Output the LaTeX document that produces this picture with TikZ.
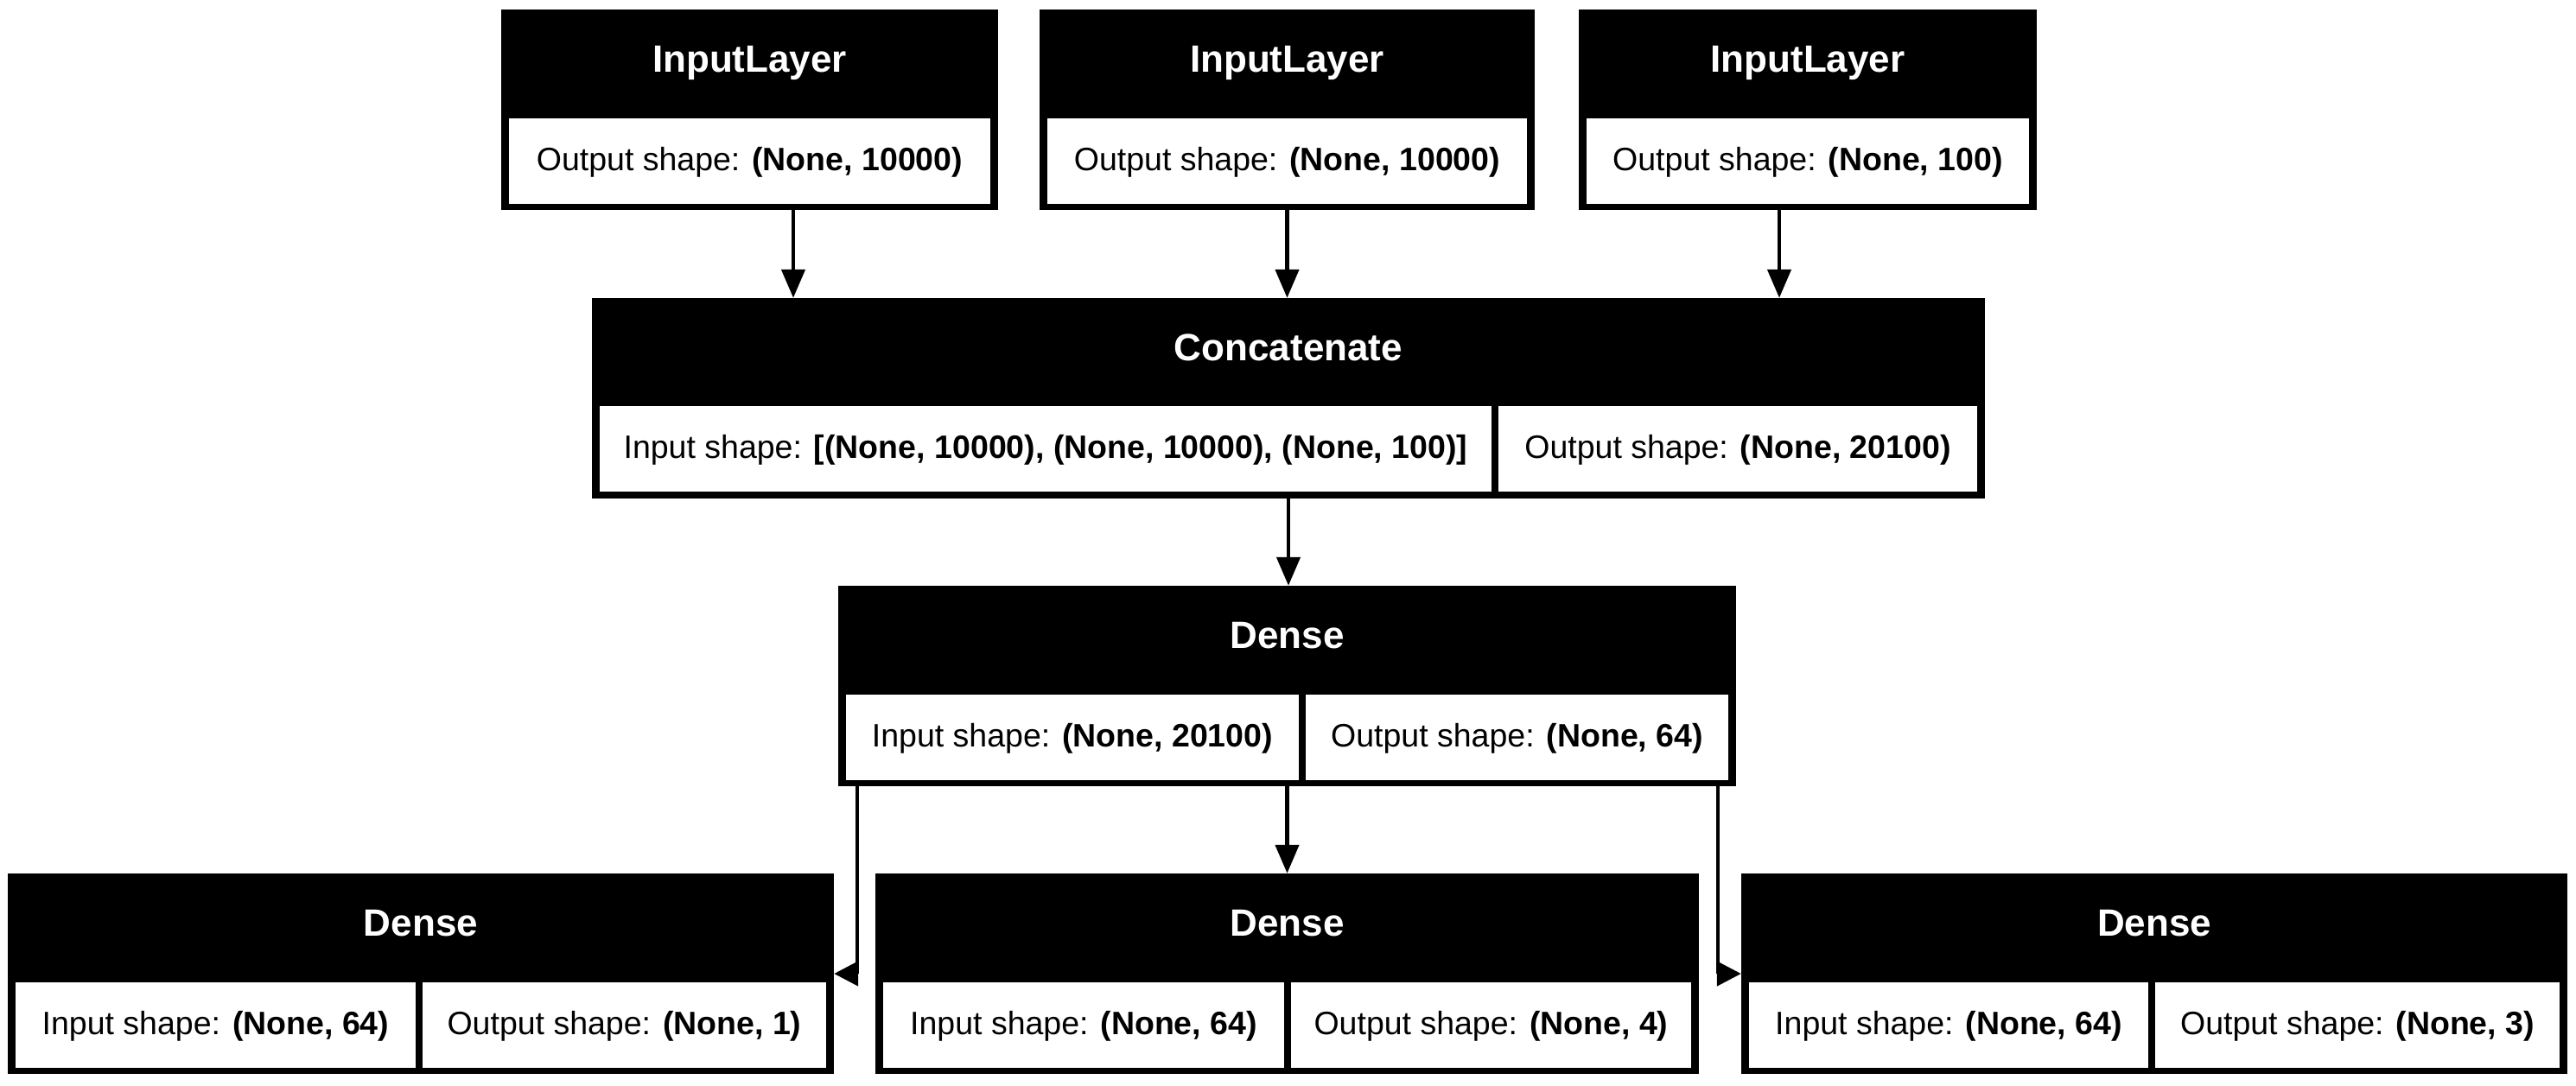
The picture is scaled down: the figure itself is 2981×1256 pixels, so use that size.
\documentclass[tikz,border=0pt]{standalone}
\usepackage{fontspec}
\setmainfont{Liberation Sans}
\usetikzlibrary{arrows.meta}
\begin{document}
\begin{tikzpicture}[x=1pt,y=-1pt,
    layer/.style={fill=black,inner sep=0pt,minimum height=232pt},
    head/.style={text=white,anchor=base,inner sep=0pt,font=\fontsize{44}{52}\selectfont\bfseries},
    cell/.style={fill=white,inner sep=0pt,minimum height=99pt,text height=27pt,text depth=6pt,
      font=\fontsize{37.5}{45}\selectfont},
    arr/.style={line width=4.5pt,-{Triangle[length=33pt,width=27pt]}},
    sidearr/.style={line width=4.5pt,-{Triangle[length=28pt,width=28pt]}}]
  \useasboundingbox (0,0) rectangle (2981,1256);
  % input layers
  \node[layer,minimum width=575pt] (in1) at (867.5,127) {};
  \node[head] at (867.5,83) {InputLayer};
  \node[cell,minimum width=557pt] (in1out) at (867.5,186.5) {Output shape: \textbf{(None, 10000)}};
  \node[layer,minimum width=573pt] (in2) at (1489.5,127) {};
  \node[head] at (1489.5,83) {InputLayer};
  \node[cell,minimum width=555pt] (in2out) at (1489.5,186.5) {Output shape: \textbf{(None, 10000)}};
  \node[layer,minimum width=530pt] (in3) at (2092,127) {};
  \node[head] at (2092,83) {InputLayer};
  \node[cell,minimum width=512pt] (in3out) at (2092,186.5) {Output shape: \textbf{(None, 100)}};
  % concatenate
  \node[layer,minimum width=1612pt] (cat) at (1491,461) {};
  \node[head] at (1491,417) {Concatenate};
  \node[cell,minimum width=1032pt] (catin) at (1210,519.5) {Input shape: \textbf{[(None, 10000), (None, 10000), (None, 100)]}};
  \node[cell,minimum width=554pt] (catout) at (2011,519.5) {Output shape: \textbf{(None, 20100)}};
  % dense
  \node[layer,minimum width=1039pt] (dense) at (1489.5,794) {};
  \node[head] at (1489.5,750) {Dense};
  \node[cell,minimum width=524pt] (densein) at (1241,853.5) {Input shape: \textbf{(None, 20100)}};
  \node[cell,minimum width=489pt] (denseout) at (1755.5,853.5) {Output shape: \textbf{(None, 64)}};
  % output heads
  \node[layer,minimum width=956pt] (dense1) at (487,1127) {};
  \node[head] at (487,1083) {Dense};
  \node[cell,minimum width=463pt] (dense1in) at (249.5,1186.5) {Input shape: \textbf{(None, 64)}};
  \node[cell,minimum width=467pt] (dense1out) at (722.5,1186.5) {Output shape: \textbf{(None, 1)}};
  \node[layer,minimum width=953pt] (dense2) at (1489.5,1127) {};
  \node[head] at (1489.5,1083) {Dense};
  \node[cell,minimum width=464pt] (dense2in) at (1254,1186.5) {Input shape: \textbf{(None, 64)}};
  \node[cell,minimum width=463pt] (dense2out) at (1725.5,1186.5) {Output shape: \textbf{(None, 4)}};
  \node[layer,minimum width=956pt] (dense3) at (2493,1127) {};
  \node[head] at (2493,1083) {Dense};
  \node[cell,minimum width=462pt] (dense3in) at (2255,1186.5) {Input shape: \textbf{(None, 64)}};
  \node[cell,minimum width=468pt] (dense3out) at (2728,1186.5) {Output shape: \textbf{(None, 3)}};
  % edges
  \draw[arr] ([xshift=50.5pt]in1.south) -- ([xshift=50.5pt]in1.south |- cat.north);
  \draw[arr] (in2.south) -- (in2.south |- cat.north);
  \draw[arr] ([xshift=-33pt]in3.south) -- ([xshift=-33pt]in3.south |- cat.north);
  \draw[arr] (cat.south) -- (cat.south |- dense.north);
  \draw[arr] (dense.south) -- (dense2.north);
  \draw[sidearr] ([xshift=22pt]dense.south west) |- (dense1.east);
  \draw[sidearr] ([xshift=-21pt]dense.south east) |- (dense3.west);
\end{tikzpicture}
\end{document}
